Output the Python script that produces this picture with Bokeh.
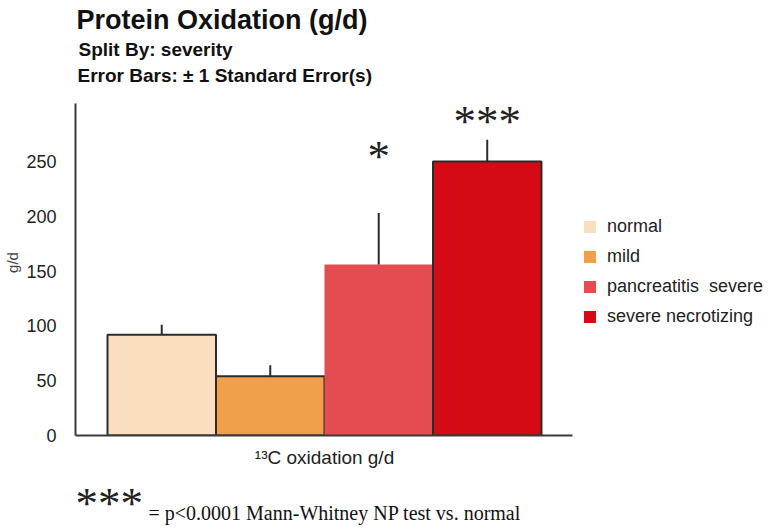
from bokeh.plotting import figure
from bokeh.layouts import column
from bokeh.models import (Range1d, FixedTicker, Legend, LegendItem,
                          ColumnDataSource)
from bokeh.core.properties import value
from bokeh.embed import file_html
from bokeh.resources import INLINE

# ---- data ----
categories = ["normal", "mild", "pancreatitis  severe", "severe necrotizing"]
means = [92, 54, 156, 250]
std_err = [9, 10, 47, 20]
colors = ["#F9DFC0", "#F0A04B", "#E44C52", "#D50A14"]
outlined = [True, True, False, True]
significance = ["", "", "*", "***"]
sig_level = [None, None, 255, 287]
y_ticks = [0, 50, 100, 150, 200, 250]
group_label = "\u00b9\u00b3C oxidation g/d"
title = "Protein Oxidation (g/d)"
subtitle1 = "Split By: severity"
subtitle2 = "Error Bars: \u00b1 1 Standard Error(s)"
footnote_stars = "***"
footnote_text = "= p<0.0001 Mann-Whitney NP test vs. normal"

# ---- layout (pixels) ----
W, H = 771, 530
HEAD_H = 89               # header height (frame top of main chart)
FL, FB = 75, 435          # y-axis x position / x-axis y position
AX_R, AX_T = 572, 103     # where the axis lines end
MAIN_BOTTOM = 12
MAIN_H = FB - HEAD_H + MAIN_BOTTOM
FOOT_H = H - HEAD_H - MAIN_H
XMIN, XMAX = -0.795, 3.786
YMAX = 303
XPX = (AX_R - FL) / (XMAX - XMIN)   # px per x unit
YPX = (FB - AX_T) / YMAX            # px per y unit
XEND = XMIN + (W - FL) / XPX
YEND = (FB - HEAD_H) / YPX
TXT = "#111111"


def blank(h):
    # frame spans page x FL..W (same left border as the chart); y in px from top
    f = figure(width=W, height=h, output_backend="svg", toolbar_location=None,
               x_range=Range1d(FL, W), y_range=Range1d(h, 0),
               min_border_left=FL, min_border_right=0,
               min_border_top=0, min_border_bottom=0)
    f.axis.visible = False
    f.grid.visible = False
    f.outline_line_color = None
    f.background_fill_color = "white"
    f.border_fill_color = "white"
    return f


# ---- header ----
head = blank(HEAD_H)
head.text(x=[76], y=[19], text=[title], text_font=value("Liberation Sans"),
          text_font_size="27px", text_font_style="bold",
          text_baseline="middle", text_color=TXT)
head.text(x=[78], y=[49], text=[subtitle1], text_font=value("Liberation Sans"),
          text_font_size="19px", text_font_style="bold",
          text_baseline="middle", text_color=TXT)
head.text(x=[77], y=[75], text=[subtitle2], text_font=value("Liberation Sans"),
          text_font_size="19px", text_font_style="bold",
          text_baseline="middle", text_color=TXT)

# ---- main chart ----
p = figure(width=W, height=MAIN_H, output_backend="svg", toolbar_location=None,
           x_range=Range1d(XMIN, XEND), y_range=Range1d(0, YEND),
           min_border_left=FL, min_border_right=0,
           min_border_top=0, min_border_bottom=MAIN_BOTTOM)
p.outline_line_color = None
p.grid.visible = False
p.background_fill_color = "white"
p.border_fill_color = "white"

xs = list(range(len(categories)))
items = []
for i in xs:
    src = ColumnDataSource(dict(x=[xs[i]], top=[means[i]]))
    r = p.vbar(x="x", top="top", width=1.0, source=src,
               fill_color=colors[i], line_color=None)
    items.append(LegendItem(label=categories[i], renderers=[r]))
    if outlined[i]:
        p.vbar(x="x", top="top", width=1.0, source=src, fill_color=None,
               line_color="#2b2b2b", line_width=2)

# error bars (upper only)
err_src = ColumnDataSource(dict(x=xs, y0=means,
                                y1=[m + e for m, e in zip(means, std_err)]))
p.segment(x0="x", y0="y0", x1="x", y1="y1", source=err_src,
          line_color="#2b2b2b", line_width=2)

# significance stars
sx = [x for x, s in zip(xs, significance) if s]
sy = [l for l, s in zip(sig_level, significance) if s]
st = [s for s in significance if s]
p.text(x=sx, y=sy, text=st, text_font=value("Liberation Serif"),
       text_font_size="45px", text_align="center", text_baseline="middle",
       text_color="#222222")

# axes
p.yaxis.ticker = FixedTicker(ticks=y_ticks)
p.yaxis.bounds = (0, YMAX)
p.yaxis.major_tick_line_color = None
p.yaxis.minor_tick_line_color = None
p.yaxis.major_tick_out = 0
p.yaxis.major_tick_in = 0
p.yaxis.minor_tick_out = 0
p.yaxis.minor_tick_in = 0
p.yaxis.major_label_standoff = 19
p.yaxis.major_label_text_font_size = "18px"
p.yaxis.major_label_text_font = "Liberation Sans"
p.yaxis.major_label_text_color = "#222222"
p.yaxis.axis_line_color = "#3a3a3a"
p.yaxis.axis_line_width = 2
p.yaxis.axis_label = "g/d"
p.yaxis.axis_label_text_font = "Liberation Sans"
p.yaxis.axis_label_text_font_style = "normal"
p.yaxis.axis_label_text_font_size = "15px"
p.yaxis.axis_label_standoff = 2

p.xaxis.ticker = FixedTicker(ticks=[])
p.xaxis.bounds = (XMIN, XMAX)
p.xaxis.major_tick_line_color = None
p.xaxis.minor_tick_line_color = None
p.xaxis.major_tick_out = 0
p.xaxis.major_tick_in = 0
p.xaxis.minor_tick_out = 0
p.xaxis.minor_tick_in = 0
p.xaxis.major_label_text_font_size = "0px"
p.xaxis.major_label_standoff = 0
p.xaxis.axis_line_color = "#3a3a3a"
p.xaxis.axis_line_width = 2

# legend
legend = Legend(items=items, location=(582 - FL, 108), padding=0, margin=0,
                border_line_color=None, background_fill_alpha=0,
                glyph_width=15, glyph_height=15, label_height=22,
                label_standoff=10, spacing=8,
                label_text_font="Liberation Sans", label_text_font_size="18px",
                label_text_color="#222222")
p.add_layout(legend, "center")

# ---- footer ----
foot = blank(FOOT_H)
y0 = HEAD_H + MAIN_H   # page y of the footer top
foot.text(x=[(107 + 541) / 2], y=[457 - y0], text=[group_label],
          text_font=value("Liberation Sans"), text_font_size="19px",
          text_align="center", text_baseline="middle", text_color="#222222")
foot.text(x=[75], y=[502 - y0], text=[footnote_stars],
          text_font=value("Liberation Serif"), text_font_size="45px",
          text_baseline="middle", text_color="#222222")
foot.text(x=[148], y=[512 - y0], text=[footnote_text],
          text_font=value("Liberation Serif"), text_font_size="20px",
          text_baseline="middle", text_color=TXT)

layout = column(head, p, foot, spacing=0)
open("out.html", "w").write(file_html(layout, INLINE))
